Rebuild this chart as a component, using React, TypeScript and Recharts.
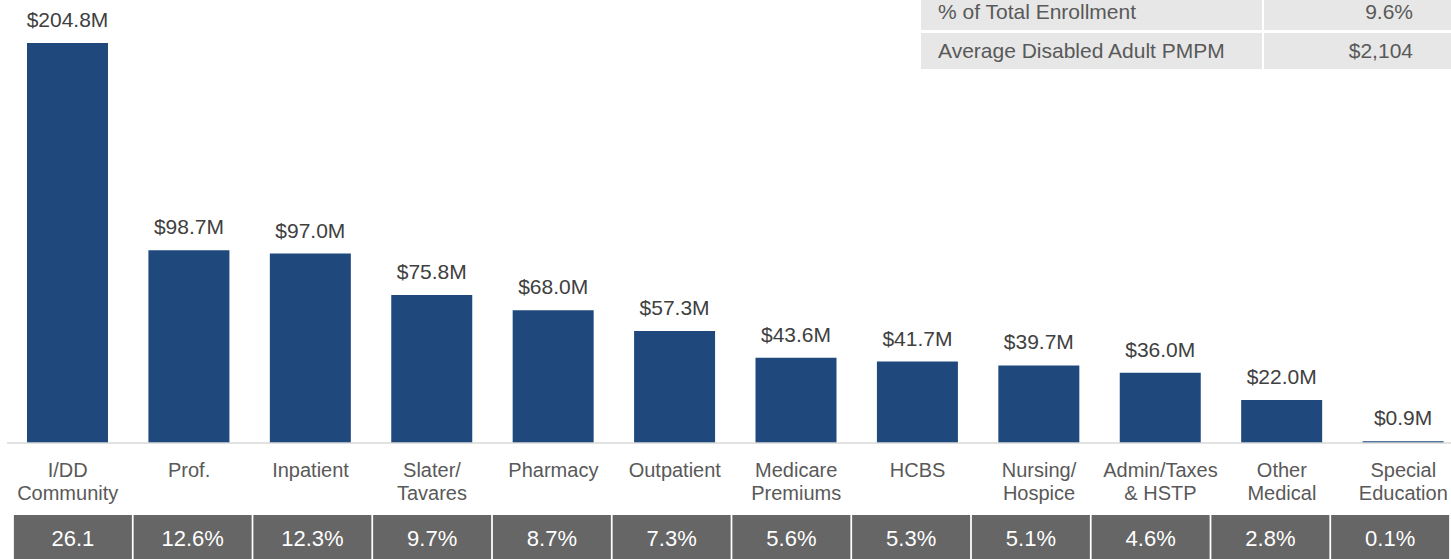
import { Bar, BarChart, LabelList, XAxis, YAxis } from "recharts";

const categories = [
  "I/DD\nCommunity",
  "Prof.",
  "Inpatient",
  "Slater/\nTavares",
  "Pharmacy",
  "Outpatient",
  "Medicare\nPremiums",
  "HCBS",
  "Nursing/\nHospice",
  "Admin/Taxes\n& HSTP",
  "Other\nMedical",
  "Special\nEducation",
];
const spendMillions = [204.8, 98.7, 97.0, 75.8, 68.0, 57.3, 43.6, 41.7, 39.7, 36.0, 22.0, 0.9];
const shareLabels = ["26.1", "12.6%", "12.3%", "9.7%", "8.7%", "7.3%", "5.6%", "5.3%", "5.1%", "4.6%", "2.8%", "0.1%"];

const summaryLabels = ["% of Total Enrollment", "Average Disabled Adult PMPM"];
const summaryValues = ["9.6%", "$2,104"];

const FONT = '"Liberation Sans", Arial, sans-serif';
const BAR_BLUE = "#1F497D";

const data = categories.map((name, i) => ({
  name,
  spend: spendMillions[i],
  share: shareLabels[i],
}));

function CategoryTick({ x, y, payload }: any) {
  const lines = String(payload.value).split("\n");
  return (
    <text x={x} textAnchor="middle" fill="#595959" fontSize={20} fontFamily={FONT}>
      {lines.map((line, i) => (
        <tspan key={i} x={x} y={y + 34 + i * 23}>
          {line}
        </tspan>
      ))}
    </text>
  );
}

function ShareTick({ x, y, payload, index }: any) {
  const w = 118;
  return (
    <g>
      <rect x={x - w / 2} y={y} width={w} height={50} fill="#666666" />
      <text x={x} y={y + 31} textAnchor="middle" fill="#ffffff" fontSize={22} fontFamily={FONT}>
        {shareLabels[index] ?? payload.value}
      </text>
    </g>
  );
}

export default function App() {
  return (
    <div
      style={{
        position: "absolute",
        left: 0,
        top: 0,
        width: 1451,
        height: 559,
        overflow: "hidden",
        background: "#ffffff",
        fontFamily: FONT,
      }}
    >
      <BarChart
        width={1470}
        height={559}
        data={data}
        margin={{ top: 43, right: 6, left: 7, bottom: 0 }}
      >
        <YAxis hide domain={[0, 204.8]} />
        <XAxis
          xAxisId="cat"
          dataKey="name"
          interval={0}
          height={72}
          tickLine={false}
          tickSize={0}
          tickMargin={0}
          axisLine={{ stroke: "#d9d9d9", strokeWidth: 1.5 }}
          tick={<CategoryTick />}
        />
        <XAxis
          xAxisId="share"
          dataKey="name"
          interval={0}
          height={44}
          padding={{ left: 6, right: 14 }}
          tickLine={false}
          tickSize={0}
          tickMargin={0}
          axisLine={false}
          tick={<ShareTick />}
        />
        <Bar xAxisId="cat" dataKey="spend" fill={BAR_BLUE} barSize={81} isAnimationActive={false}>
          <LabelList
            dataKey="spend"
            position="top"
            offset={16}
            fill="#404040"
            fontSize={21}
            fontFamily={FONT}
            formatter={(v: any) => `$${Number(v).toFixed(1)}M`}
          />
        </Bar>
      </BarChart>

      <div style={{ position: "absolute", left: 921, top: -6 }}>
        {summaryLabels.map((label, i) => (
          <div key={label} style={{ display: "flex", marginBottom: 3 }}>
            <div
              style={{
                width: 341,
                height: 36,
                boxSizing: "border-box",
                background: "#e7e7e7",
                color: "#595959",
                fontSize: 21,
                lineHeight: "36px",
                paddingLeft: 17,
                marginRight: 2,
              }}
            >
              {label}
            </div>
            <div
              style={{
                width: 200,
                height: 36,
                boxSizing: "border-box",
                background: "#e7e7e7",
                color: "#595959",
                fontSize: 21,
                lineHeight: "36px",
                textAlign: "right",
                paddingRight: 51,
              }}
            >
              {summaryValues[i]}
            </div>
          </div>
        ))}
      </div>
    </div>
  );
}
